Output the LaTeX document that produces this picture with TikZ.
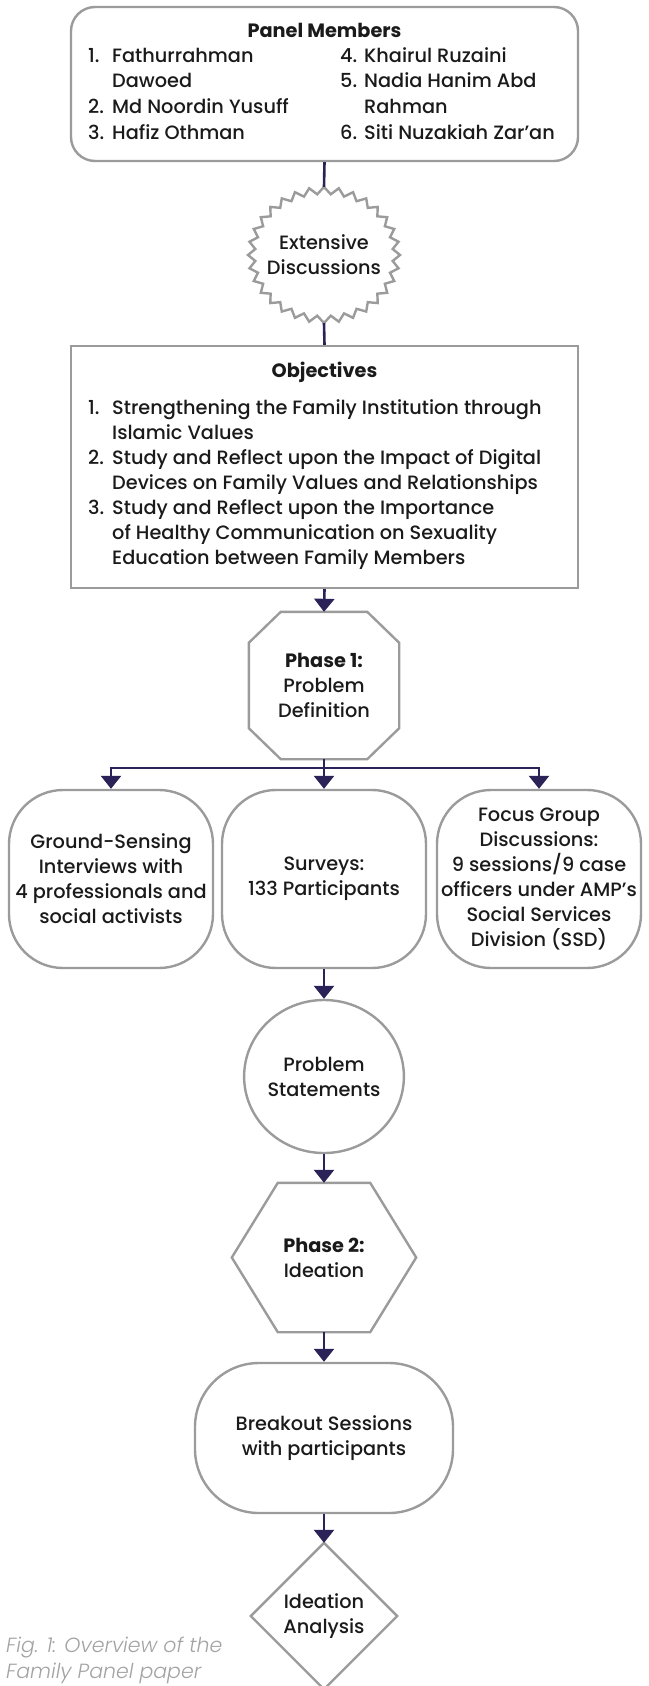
\documentclass[tikz,border=0pt]{standalone}
\usepackage{fontspec}
\setmainfont{Poppins}[UprightFont=* Medium, BoldFont=* Bold]
\newfontfamily\capfont{Poppins}[UprightFont=* Light Italic]
\usetikzlibrary{arrows.meta,calc,shapes.geometric}

\definecolor{edgegray}{HTML}{9B9B9B}
\definecolor{flow}{HTML}{2B2358}
\definecolor{ink}{HTML}{1A1A1A}
\definecolor{capgray}{HTML}{A3A3A3}

\begin{document}
\begin{tikzpicture}[x=1pt,y=-1pt,
  every node/.style={text=ink, font=\fontsize{19.3}{25}\selectfont},
  outline/.style={draw=edgegray, line width=2.4pt},
  box/.style={outline, inner sep=0pt, align=center},
  ghost/.style={inner sep=0pt, align=center},
  link/.style={draw=flow, line width=2.6pt},
  arrowlink/.style={link, -{Triangle[width=20pt,length=13pt]}},
  rowtxt/.style={anchor=west, inner sep=0pt, text height=14pt, text depth=0pt},
  headtxt/.style={inner sep=0pt, font=\fontsize{19.3}{25}\selectfont\bfseries},
  captxt/.style={anchor=west, inner sep=0pt, text=capgray, text height=14pt, text depth=0pt,
                 font=\fontsize{20.5}{26}\capfont},
]
\path[use as bounding box] (0,0) rectangle (648,1686);

% ---- panel members ----
\node[box, rounded corners=24pt, minimum width=507pt, minimum height=154pt] (panel) at (324.5,84) {};
\node[headtxt] (panelhead) at (324.5,30) {Panel Members};
\node[rowtxt] (pn1) at (88,56) {1.};
\node[rowtxt] (pt1a) at (112,56) {Fathurrahman};
\node[rowtxt] (pt1b) at (112,81) {Dawoed};
\node[rowtxt] (pn2) at (88,106) {2.};
\node[rowtxt] (pt2) at (112,106) {Md Noordin Yusuff};
\node[rowtxt] (pn3) at (88,132) {3.};
\node[rowtxt] (pt3) at (112,132) {Hafiz Othman};
\node[rowtxt] (pn4) at (340,56) {4.};
\node[rowtxt] (pt4) at (364,56) {Khairul Ruzaini};
\node[rowtxt] (pn5) at (340,81) {5.};
\node[rowtxt] (pt5a) at (364,81) {Nadia Hanim Abd};
\node[rowtxt] (pt5b) at (364,106) {Rahman};
\node[rowtxt] (pn6) at (340,132) {6.};
\node[rowtxt] (pt6) at (364,132) {Siti Nuzakiah Zar’an};

% ---- discussion starburst ----
\node[ghost, minimum width=152pt, minimum height=136pt] (talk) at (324,255) {Extensive\\Discussions};
\draw[outline] plot[samples=65, domain=0:64, variable=\k]
  ({324+(76-7*mod(round(\k),2))*cos(90+5.625*\k)},
   {255-(68-7*mod(round(\k),2))*sin(90+5.625*\k)}) -- cycle;

% ---- objectives ----
\node[box, minimum width=507pt, minimum height=242pt] (obj) at (324.5,467) {};
\node[headtxt] (objhead) at (324.5,372) {Objectives};
\node[rowtxt] (on1) at (88,407) {1.};
\node[rowtxt] (ot1a) at (112,407) {Strengthening the Family Institution through};
\node[rowtxt] (ot1b) at (112,432) {Islamic Values};
\node[rowtxt] (on2) at (88,457) {2.};
\node[rowtxt] (ot2a) at (112,457) {Study and Reflect upon the Impact of Digital};
\node[rowtxt] (ot2b) at (112,482) {Devices on Family Values and Relationships};
\node[rowtxt] (on3) at (88,507) {3.};
\node[rowtxt] (ot3a) at (112,507) {Study and Reflect upon the Importance};
\node[rowtxt] (ot3b) at (112,532) {of Healthy Communication on Sexuality};
\node[rowtxt] (ot3c) at (112,557) {Education between Family Members};

% ---- phase 1 octagon ----
\node[ghost, minimum width=150pt, minimum height=147pt] (oct) at (324,685.5)
  {\textbf{Phase 1:}\\Problem\\Definition};
\draw[outline] ($(oct.north west)+(32,0)$) -- ($(oct.north east)+(-32,0)$)
  -- ($(oct.north east)+(0,31)$) -- ($(oct.south east)+(0,-31)$)
  -- ($(oct.south east)+(-32,0)$) -- ($(oct.south west)+(32,0)$)
  -- ($(oct.south west)+(0,-31)$) -- ($(oct.north west)+(0,31)$) -- cycle;

% ---- phase 1 activities ----
\node[box, rounded corners=54pt, minimum width=204pt, minimum height=178pt] (ground) at (111,879)
  {Ground-Sensing\\Interviews with\\4 professionals and\\social activists};
\node[box, rounded corners=54pt, minimum width=204pt, minimum height=178pt] (survey) at (324,879)
  {Surveys:\\133 Participants};
\node[box, rounded corners=54pt, minimum width=204pt, minimum height=178pt] (focus) at (539,879)
  {Focus Group\\Discussions:\\9 sessions/9 case\\officers under AMP’s\\Social Services\\Division (SSD)};

% ---- problem statements ----
\node[box, ellipse, minimum width=156pt, minimum height=153pt] (stmt) at (324,1076.5)
  {Problem\\Statements};

% ---- phase 2 hexagon ----
\node[ghost, minimum width=184pt, minimum height=149pt] (hex) at (324,1257.5)
  {\textbf{Phase 2:}\\Ideation};
\draw[outline] ($(hex.north west)+(46,0)$) -- ($(hex.north east)+(-46,0)$) -- (hex.east)
  -- ($(hex.south east)+(-46,0)$) -- ($(hex.south west)+(46,0)$) -- (hex.west) -- cycle;

% ---- breakout sessions ----
\node[box, rounded corners=64pt, minimum width=258pt, minimum height=150pt] (brk) at (324,1438)
  {Breakout Sessions\\with participants};

% ---- ideation analysis diamond ----
\node[ghost, minimum width=146pt, minimum height=146pt] (ana) at (324,1616) {Ideation\\Analysis};
\draw[outline] (ana.north) -- (ana.east) -- (ana.south) -- (ana.west) -- cycle;

% ---- caption ----
\node[captxt] (cap1) at (6,1645) {Fig. 1: Overview of the};
\node[captxt] (cap2) at (6,1671) {Family Panel paper};

% ---- connectors ----
\draw[link] (panel.south) -- (talk.north);
\draw[link] (talk.south) -- (obj.north);
\draw[arrowlink] (obj.south) -- (oct.north);
\coordinate (fork) at (324,768);
\draw[link] (oct.south) -- (fork);
\draw[arrowlink] (fork) -| (ground.north);
\draw[arrowlink] (fork) -- (survey.north);
\draw[arrowlink] (fork) -| (focus.north);
\draw[arrowlink] (survey.south) -- (stmt.north);
\draw[arrowlink] (stmt.south) -- (hex.north);
\draw[arrowlink] (hex.south) -- (brk.north);
\draw[arrowlink] (brk.south) -- (ana.north);
\end{tikzpicture}
\end{document}
